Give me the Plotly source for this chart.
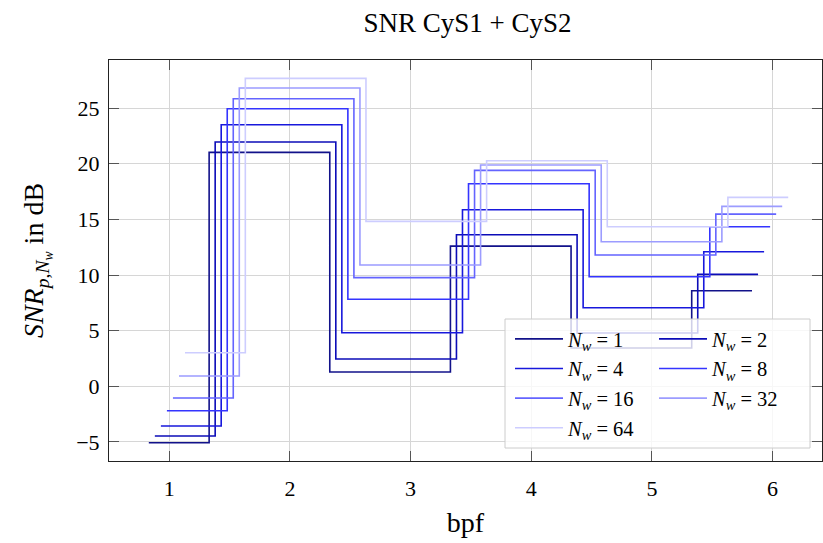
import plotly.graph_objects as go

# ---- data ----
nw_labels = [1, 2, 4, 8, 16, 32, 64]
# bpf breakpoints of the N_w = 1 curve (each larger N_w is shifted right by x_shift)
bpf_steps = [0.83, 1.33, 2.33, 3.33, 4.33, 5.33]
bpf_end = 5.83
x_shift = 0.05

snr_nw1 = [-5.07, 21.02, 1.28, 12.60, 3.44, 8.59]
snr_nw2 = [-4.47, 21.95, 2.46, 13.62, 4.79, 10.06]
snr_nw4 = [-3.57, 23.50, 4.82, 15.87, 7.06, 12.09]
snr_nw8 = [-2.19, 24.94, 7.83, 18.20, 9.85, 14.34]
snr_nw16 = [-1.05, 25.84, 9.77, 19.40, 11.80, 15.47]
snr_nw32 = [0.93, 26.80, 10.90, 19.88, 12.99, 16.17]
snr_nw64 = [3.02, 27.67, 14.82, 20.27, 14.34, 16.98]

series = [snr_nw1, snr_nw2, snr_nw4, snr_nw8, snr_nw16, snr_nw32, snr_nw64]
colors = ["#12128a", "#0c0cb8", "#1818dc", "#3434ff", "#6464ff", "#9c9cff", "#cdcdff"]

FONT = "Liberation Serif"

fig = go.Figure()
for i, (nw, vals, col) in enumerate(zip(nw_labels, series, colors)):
    xs = [b + i * x_shift for b in bpf_steps] + [bpf_end + i * x_shift]
    ys = vals + [vals[-1]]
    fig.add_trace(go.Scatter(
        x=xs, y=ys, mode="lines", line=dict(shape="hv", color=col, width=1.6),
        name=f"<i>N</i><sub><i>w</i></sub>&nbsp;=&nbsp;{nw}",
        legend="legend" if i % 2 == 0 else "legend2",
        showlegend=True,
    ))

axis_common = dict(
    showline=True, linecolor="#222", linewidth=1, mirror="allticks",
    ticks="inside", ticklen=10, tickcolor="#555", tickwidth=1,
    showgrid=True, gridcolor="#d6d6d6", gridwidth=1, zeroline=False,
    tickfont=dict(family=FONT, size=22, color="black"),
)

legend_common = dict(
    xanchor="left", y=(461 - 319) / 401, yanchor="top",
    bgcolor="rgba(0,0,0,0)", borderwidth=0, itemwidth=48,
    font=dict(family=FONT, size=20.5, color="black"), tracegroupgap=0,
)

fig.update_layout(
    width=823, height=543,
    margin=dict(l=109, r=1, t=60, b=82),
    plot_bgcolor="white", paper_bgcolor="white",
    title=dict(text="SNR CyS1 + CyS2", x=0.568, xanchor="center", y=0.958, yanchor="middle",
               font=dict(family=FONT, size=27, color="black")),
    xaxis=dict(range=[0.5, 6.41], tickvals=[1, 2, 3, 4, 5, 6], ticklabelstandoff=8,
               title=dict(text="bpf", font=dict(family=FONT, size=28, color="black"), standoff=11),
               **axis_common),
    yaxis=dict(range=[-6.71, 29.32], tickvals=[-5, 0, 5, 10, 15, 20, 25], ticklabelstandoff=4,
               title=dict(text="<i>SNR</i><sub><i>p</i>,<i>N<sub>w</sub></i></sub> in dB",
                          font=dict(family=FONT, size=28, color="black"), standoff=24),
               **axis_common),
    legend=dict(x=(510 - 109) / 713, **legend_common),
    legend2=dict(x=(654 - 109) / 713, **legend_common),
    shapes=[dict(type="rect", xref="paper", yref="paper",
                 x0=(505 - 109) / 713, x1=(810 - 109) / 713,
                 y0=(461 - 448) / 401, y1=(461 - 319) / 401,
                 fillcolor="rgba(255,255,255,0.8)", line=dict(color="#cccccc", width=1),
                 layer="above")],
)

fig.write_html("out.html")
